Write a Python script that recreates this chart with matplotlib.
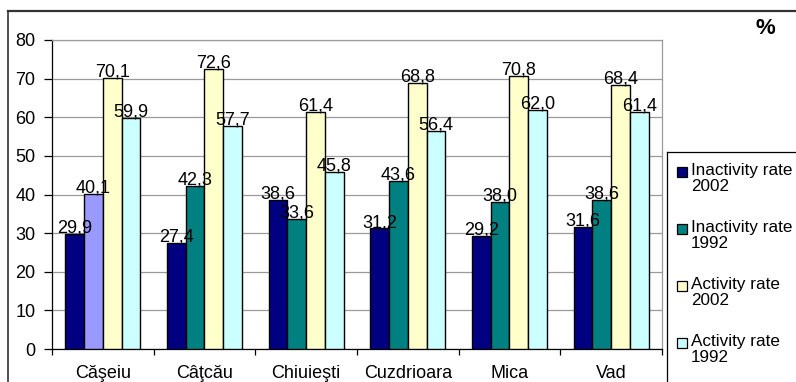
import matplotlib
matplotlib.use("Agg")
import matplotlib.pyplot as plt
from matplotlib.patches import Rectangle
from matplotlib.lines import Line2D
import numpy as np

plt.rcParams['font.family'] = ['Liberation Sans', 'DejaVu Sans']

villages = ["Căşeiu", "Câţcău", "Chiuieşti", "Cuzdrioara", "Mica", "Vad"]
inactivity_2002 = [29.9, 27.4, 38.6, 31.2, 29.2, 31.6]
inactivity_1992 = [40.1, 42.3, 33.6, 43.6, 38.0, 38.6]
activity_2002 = [70.1, 72.6, 61.4, 68.8, 70.8, 68.4]
activity_1992 = [59.9, 57.7, 45.8, 56.4, 62.0, 61.4]
series_names = ["Inactivity rate\n2002", "Inactivity rate\n1992",
                "Activity rate\n2002", "Activity rate\n1992"]
colors = ["#000080", "#008080", "#FFFFCC", "#CCFFFF"]

W, H = 796, 382
fig = plt.figure(figsize=(W / 100, H / 100), dpi=100)

def fx(px):
    return px / W

def fy(py):
    return 1 - py / H

ax = fig.add_axes([fx(52), fy(349), fx(662) - fx(52), fy(40) - fy(349)])

x = np.arange(len(villages))
width = 0.185
series = [inactivity_2002, inactivity_1992, activity_2002, activity_1992]
for k, (vals, col) in enumerate(zip(series, colors)):
    pos = x + (k - 1.5) * width
    bars = ax.bar(pos, vals, width, color=col, edgecolor="black", linewidth=1.0, zorder=3)
    if k == 1:
        # first village's 1992 bar was recoloured
        bars[0].set_facecolor("#9999FF")
    for p, v in zip(pos, vals):
        ax.annotate(f"{v:.1f}".replace(".", ","), (p, v), xytext=(0, 1),
                    textcoords="offset points", ha="center", va="baseline",
                    fontsize=13, zorder=4)

ax.set_xlim(-0.5, len(villages) - 0.5)
ax.set_ylim(0, 80)
ax.set_yticks(range(0, 81, 10))
ax.yaxis.grid(True, color="#9A9A9A", linewidth=0.9, zorder=0)
ax.set_axisbelow(True)

ax.set_xticks(np.arange(len(villages) + 1) - 0.5)
ax.set_xticklabels([])
ax.set_xticks(x, minor=True)
ax.set_xticklabels(villages, minor=True, fontsize=13)
ax.tick_params(axis="x", which="major", direction="out", length=4, width=0.9)
ax.tick_params(axis="x", which="minor", length=0, pad=11.5)
ax.tick_params(axis="y", direction="out", length=6, width=0.9, pad=6, labelsize=13)

for s in ["top", "right"]:
    ax.spines[s].set_color("#9A9A9A")
    ax.spines[s].set_linewidth(0.9)
for s in ["left", "bottom"]:
    ax.spines[s].set_color("black")
    ax.spines[s].set_linewidth(0.9)

# chart border
fig.add_artist(Line2D([fx(8), 1], [fy(11), fy(11)], color="#333333", linewidth=1.6,
                      transform=fig.transFigure))
fig.add_artist(Line2D([fx(8), fx(8)], [fy(11), 0], color="#333333", linewidth=1.2,
                      transform=fig.transFigure))

fig.text(fx(765), fy(28), "%", fontsize=16, fontweight="bold", ha="center", va="center")

# legend box and entries
fig.add_artist(Line2D([fx(667), 1], [fy(152), fy(152)], color="black", linewidth=0.9,
                      transform=fig.transFigure))
fig.add_artist(Line2D([fx(667), fx(667)], [fy(152), 0], color="black", linewidth=0.9,
                      transform=fig.transFigure))
for i, (name, col) in enumerate(zip(series_names, colors)):
    y0 = 172 + 57 * i
    fig.add_artist(Rectangle((fx(677), fy(y0 + 5)), 10 / W, 10 / H, facecolor=col,
                             edgecolor="black", linewidth=0.9, transform=fig.transFigure))
    fig.text(fx(691), fy(y0 - 9), name, fontsize=12.3, ha="left", va="top", linespacing=1.05)

fig.savefig("out.png", dpi=100)
